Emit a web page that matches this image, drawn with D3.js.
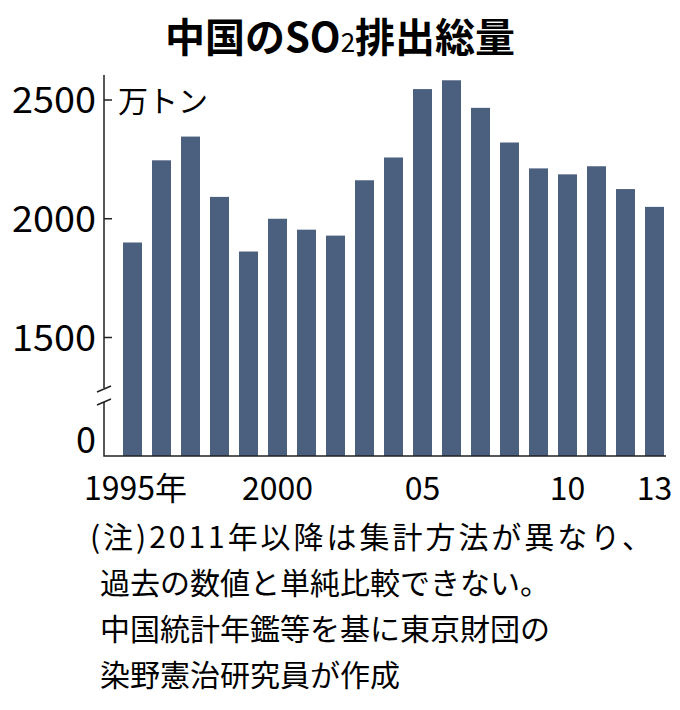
<!DOCTYPE html>
<html><head><meta charset="utf-8">
<script src="https://cdn.jsdelivr.net/npm/d3@7"></script>
<style>body{margin:0;background:#fff}text{font-family:"Noto Sans CJK JP",sans-serif}</style>
</head><body><div id="chart"></div>
<script>
const years = ["1995","1996","1997","1998","1999","2000","2001","2002","2003","2004","2005","2006","2007","2008","2009","2010","2011","2012","2013"];
const so2 = [1900,2246,2346,2092,1862,2000,1954,1929,2162,2258,2546,2583,2467,2321,2212,2187,2221,2125,2050];
const yTicks = [1500,2000,2500];
const xLabels = {"1995":"1995年","2000":"2000","2005":"05","2010":"10","2013":"13"};
const notes = ["(注)2011年以降は集計方法が異なり、","過去の数値と単純比較できない。","中国統計年鑑等を基に東京財団の","染野憲治研究員が作成"];

const svg = d3.select("#chart").append("svg").attr("width",680).attr("height",710);
const x = d3.scaleBand().domain(years).range([123,664]).paddingInner(0.345).paddingOuter(0);
// broken axis: 0..1300 compressed, 1300..2500 linear
const y = d3.scaleLinear().domain([0,1300,2500]).range([456,385,100]);

svg.append("text").attr("x",340).attr("y",52).attr("text-anchor","middle")
  .attr("font-size",40).attr("font-weight",700)
  .html('中国のSO<tspan font-size="26" font-weight="400">2</tspan>排出総量');

svg.selectAll("rect.bar").data(years).join("rect").attr("class","bar")
  .attr("x",d=>x(d)).attr("width",x.bandwidth())
  .attr("y",(d,i)=>y(so2[i])).attr("height",(d,i)=>y(0)-y(so2[i]))
  .attr("fill","#4b5f7e");

const ax = 104;
svg.append("path").attr("d",`M${ax},75V388M${ax},402V456H${x("2013")+x.bandwidth()+2}`)
  .attr("stroke","#222").attr("stroke-width",1.5).attr("fill","none");
svg.append("path").attr("d",`M97,392L111,386M97,405L111,399`).attr("stroke","#222").attr("stroke-width",1.5);
yTicks.forEach(t=>{
  svg.append("line").attr("x1",ax).attr("x2",ax+8).attr("y1",y(t)).attr("y2",y(t)).attr("stroke","#222").attr("stroke-width",1.5);
  svg.append("text").attr("x",96).attr("y",y(t)+13).attr("text-anchor","end").attr("font-size",36)
    .attr("font-family","Liberation Sans").attr("textLength",84).attr("lengthAdjust","spacingAndGlyphs").text(t);
});
svg.append("text").attr("x",96).attr("y",453).attr("text-anchor","end").attr("font-size",36).attr("font-family","Liberation Sans").text("0");
svg.append("text").attr("x",118).attr("y",112).attr("font-size",30).text("万トン");

Object.entries(xLabels).forEach(([k,v])=>{
  const cx = x(k)+x.bandwidth()/2;
  const t = svg.append("text").attr("y",500).attr("font-size",32).text(v);
  if(k==="1995") t.attr("x",84); else t.attr("x",cx).attr("text-anchor","middle");
});

notes.forEach((n,i)=>svg.append("text").attr("x",i===0?90:100).attr("y",548+i*46).attr("font-size",30)
  .attr("textLength",i===0?562:null).attr("lengthAdjust","spacing").text(n));
</script></body></html>
